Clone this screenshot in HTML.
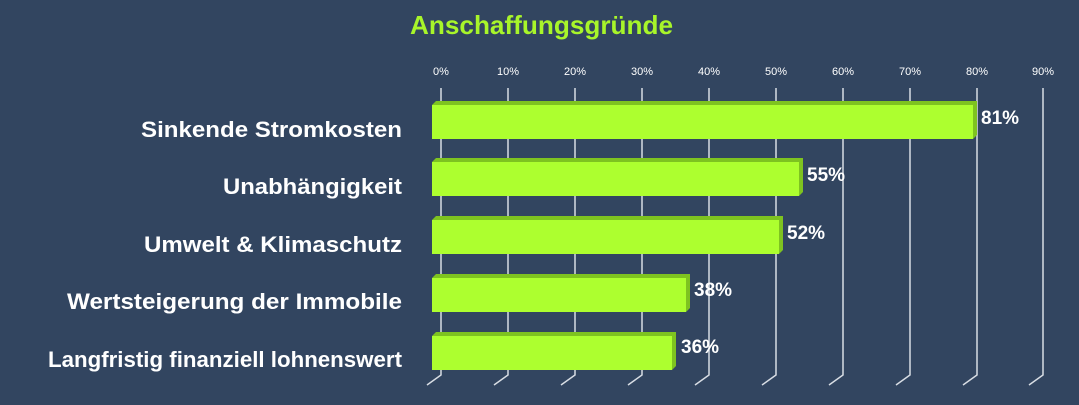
<!DOCTYPE html><html><head><style>
body{margin:0;width:1079px;height:400px;background:#324560;overflow:hidden;font-family:"Liberation Sans",sans-serif}
</style></head><body>
<svg width="1079" height="400" xmlns="http://www.w3.org/2000/svg">
<rect width="1079" height="400" fill="#324560"/>
<text x="410" y="34" textLength="263" lengthAdjust="spacingAndGlyphs" font-size="26" font-weight="bold" fill="#a8f52a">Anschaffungsgründe</text>
<g stroke="#d8dde4" stroke-width="1.5" fill="none">
<path d="M441 88V375L427 385"/><path d="M508 88V375L494 385"/><path d="M575 88V375L561 385"/><path d="M642 88V375L628 385"/><path d="M709 88V375L695 385"/><path d="M776 88V375L762 385"/><path d="M843 88V375L829 385"/><path d="M910 88V375L896 385"/><path d="M977 88V375L963 385"/><path d="M1043 88V375L1029 385"/>
</g>
<g font-size="11" fill="#fff" text-anchor="middle">
<text x="441" y="75">0%</text><text x="508" y="75">10%</text><text x="575" y="75">20%</text><text x="642" y="75">30%</text><text x="709" y="75">40%</text><text x="776" y="75">50%</text><text x="843" y="75">60%</text><text x="910" y="75">70%</text><text x="977" y="75">80%</text><text x="1043" y="75">90%</text>
</g>
<g>
<path d="M432 105l4-4h541v34l-4 4z" fill="#7ec320"/><rect x="432" y="105" width="541" height="34" fill="#adff2f"/>
<path d="M432 162l4-4h367v34l-4 4z" fill="#7ec320"/><rect x="432" y="162" width="367" height="34" fill="#adff2f"/>
<path d="M432 220l4-4h347v34l-4 4z" fill="#7ec320"/><rect x="432" y="220" width="347" height="34" fill="#adff2f"/>
<path d="M432 278l4-4h254v34l-4 4z" fill="#7ec320"/><rect x="432" y="278" width="254" height="34" fill="#adff2f"/>
<path d="M432 336l4-4h240v34l-4 4z" fill="#7ec320"/><rect x="432" y="336" width="240" height="34" fill="#adff2f"/>
</g>
<g font-size="19" font-weight="bold" fill="#fff">
<text x="981" y="124">81%</text><text x="807" y="181">55%</text><text x="787" y="239">52%</text><text x="694" y="296">38%</text><text x="681" y="353">36%</text>
</g>
<g font-size="22" font-weight="bold" fill="#fff" lengthAdjust="spacingAndGlyphs">
<text x="141" y="137" textLength="261" lengthAdjust="spacingAndGlyphs">Sinkende Stromkosten</text>
<text x="223" y="194" textLength="179" lengthAdjust="spacingAndGlyphs">Unabhängigkeit</text>
<text x="144" y="252" textLength="258" lengthAdjust="spacingAndGlyphs">Umwelt &amp; Klimaschutz</text>
<text x="67" y="309" textLength="335" lengthAdjust="spacingAndGlyphs">Wertsteigerung der Immobile</text>
<text x="48" y="367" textLength="354" lengthAdjust="spacingAndGlyphs">Langfristig finanziell lohnenswert</text>
</g>
</svg>
</body></html>
